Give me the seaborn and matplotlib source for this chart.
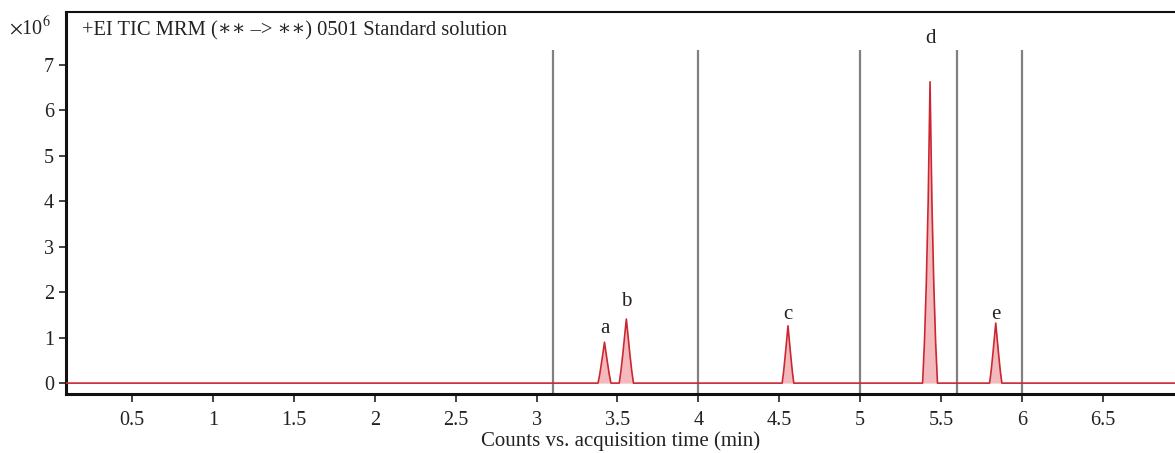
import numpy as np
import pandas as pd
import matplotlib
matplotlib.use("Agg")
import matplotlib.pyplot as plt
import seaborn as sns

# chromatogram trace points (time in min, counts x1e6)
trace_time = [0.09,
              3.380, 3.390, 3.400, 3.410, 3.420, 3.430, 3.440, 3.450, 3.460,
              3.511, 3.522, 3.533, 3.544, 3.555, 3.566, 3.577, 3.588, 3.599,
              4.518, 4.527, 4.536, 4.545, 4.554, 4.563, 4.572, 4.581, 4.590,
              5.386, 5.3975, 5.409, 5.4205, 5.432, 5.4435, 5.455, 5.4665, 5.478,
              5.800, 5.8095, 5.819, 5.8285, 5.838, 5.8475, 5.857, 5.8665, 5.876,
              6.95]
trace_signal = [0.0,
                0.0, 0.18, 0.41, 0.65, 0.90, 0.65, 0.41, 0.18, 0.0,
                0.0, 0.28, 0.63, 1.02, 1.41, 1.02, 0.63, 0.28, 0.0,
                0.0, 0.25, 0.57, 0.91, 1.26, 0.91, 0.57, 0.25, 0.0,
                0.0, 0.90, 2.20, 4.00, 6.63, 4.00, 2.20, 0.90, 0.0,
                0.0, 0.26, 0.59, 0.95, 1.32, 0.95, 0.59, 0.26, 0.0,
                0.0]

peak_labels = ["a", "b", "c", "d", "e"]
peak_times = [3.420, 3.555, 4.554, 5.432, 5.838]
label_heights = [1.21, 1.80, 1.50, 7.59, 1.52]

segment_times = [3.1, 4.0, 5.0, 5.6, 6.0]
x_ticks = [0.5, 1, 1.5, 2, 2.5, 3, 3.5, 4, 4.5, 5, 5.5, 6, 6.5]
x_ticklabels = ["0.5", "1", "1.5", "2", "2.5", "3", "3.5", "4", "4.5", "5", "5.5", "6", "6.5"]
y_ticks = [0, 1, 2, 3, 4, 5, 6, 7]

sns.set_style("ticks")
plt.rcParams['font.family'] = ['Liberation Serif', 'DejaVu Serif']
plt.rcParams['mathtext.fontset'] = 'stix'

df = pd.DataFrame({'time': trace_time, 'signal': trace_signal})

fig = plt.figure(figsize=(11.75, 4.53), dpi=100)
ax = fig.add_axes([0.0562, 0.130, 0.9438, 0.8435])

# segment dividers
ax.vlines(segment_times, -0.24, 7.33, color='#808080', linewidth=1.6, zorder=1)

ax.fill_between(trace_time, 0, trace_signal, color='#eea3a7', alpha=0.75, linewidth=0, zorder=2)
sns.lineplot(data=df, x='time', y='signal', ax=ax, color='#cc2631', linewidth=1.2,
             estimator=None, sort=False, zorder=3)

for lab, t, h in zip(peak_labels, peak_times, label_heights):
    ax.text(t, h, lab, ha='center', va='center', fontsize=15, color='#222222')

ax.set_xlim(0.092, 6.946)
ax.set_ylim(-0.242, 8.166)
ax.set_xticks(x_ticks)
ax.set_xticklabels(x_ticklabels)
ax.set_yticks(y_ticks)
ax.tick_params(axis='both', labelsize=14.5, direction='out', length=5, width=1.2, colors='#222222')
ax.tick_params(axis='x', pad=6, length=6)

ax.spines['right'].set_visible(False)
ax.spines['left'].set_linewidth(2.2)
ax.spines['bottom'].set_linewidth(2.2)
ax.spines['top'].set_linewidth(1.5)
for s in ax.spines.values():
    s.set_color('#111111')

ax.set_xlabel('Counts vs. acquisition time (min)', fontsize=15, color='#222222', labelpad=1)
ax.set_ylabel('')

ax.text(0.0145, 0.975, '+EI TIC MRM (∗∗ –> ∗∗) 0501 Standard solution',
        transform=ax.transAxes, ha='left', va='top', fontsize=14.8, color='#222222')
fig.text(0.008, 0.938, r'$\times$10$^{6}$', ha='left', va='center', fontsize=14.5, color='#222222')

fig.savefig('out.png', dpi=100)
